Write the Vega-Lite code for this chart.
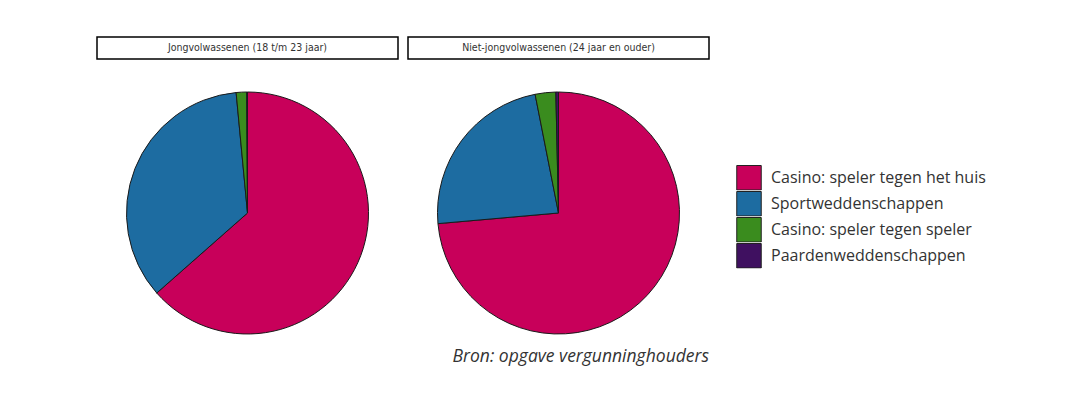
{
  "$schema": "https://vega.github.io/schema/vega-lite/v6.json",
  "padding": {"left": 96, "top": 36, "right": 0, "bottom": 0},
  "background": "#ffffff",
  "datasets": {
    "aandelen": [
      {"groep": "Jongvolwassenen (18 t/m 23 jaar)", "spel": "Casino: speler tegen het huis", "volgorde": 1, "aandeel": 63.5},
      {"groep": "Jongvolwassenen (18 t/m 23 jaar)", "spel": "Sportweddenschappen", "volgorde": 2, "aandeel": 35.0},
      {"groep": "Jongvolwassenen (18 t/m 23 jaar)", "spel": "Casino: speler tegen speler", "volgorde": 3, "aandeel": 1.4},
      {"groep": "Jongvolwassenen (18 t/m 23 jaar)", "spel": "Paardenweddenschappen", "volgorde": 4, "aandeel": 0.1},
      {"groep": "Niet-jongvolwassenen (24 jaar en ouder)", "spel": "Casino: speler tegen het huis", "volgorde": 1, "aandeel": 73.6},
      {"groep": "Niet-jongvolwassenen (24 jaar en ouder)", "spel": "Sportweddenschappen", "volgorde": 2, "aandeel": 23.3},
      {"groep": "Niet-jongvolwassenen (24 jaar en ouder)", "spel": "Casino: speler tegen speler", "volgorde": 3, "aandeel": 2.75},
      {"groep": "Niet-jongvolwassenen (24 jaar en ouder)", "spel": "Paardenweddenschappen", "volgorde": 4, "aandeel": 0.35}
    ],
    "groepen": [
      {"groep": "Jongvolwassenen (18 t/m 23 jaar)"},
      {"groep": "Niet-jongvolwassenen (24 jaar en ouder)"}
    ]
  },
  "spacing": 8,
  "hconcat": [
    {
      "spacing": 29,
      "vconcat": [
        {
          "width": 301, "height": 22,
          "view": {"stroke": "#000000", "strokeWidth": 1.5},
          "data": {"name": "groepen"},
          "transform": [{"filter": "datum.groep === 'Jongvolwassenen (18 t/m 23 jaar)'"}],
          "mark": {"type": "text", "font": "DejaVu Sans Condensed", "fontSize": 10.5, "color": "#333333"},
          "encoding": {"text": {"field": "groep", "type": "nominal"}}
        },
        {
          "width": 301, "height": 248,
          "view": {"stroke": null},
          "data": {"name": "aandelen"},
          "transform": [{"filter": "datum.groep === 'Jongvolwassenen (18 t/m 23 jaar)'"}],
          "mark": {"type": "arc", "outerRadius": 121, "stroke": "#1a1a1a", "strokeWidth": 1},
          "encoding": {
            "theta": {"field": "aandeel", "type": "quantitative", "stack": true},
            "order": {"field": "volgorde", "type": "quantitative"},
            "color": {
              "field": "spel", "type": "nominal",
              "scale": {
                "domain": ["Casino: speler tegen het huis", "Sportweddenschappen", "Casino: speler tegen speler", "Paardenweddenschappen"],
                "range": ["#C8005A", "#1D6CA1", "#3A8C1E", "#3F1060"]
              },
              "legend": {"title": null}
            }
          }
        }
      ]
    },
    {
      "spacing": 29,
      "vconcat": [
        {
          "width": 301, "height": 22,
          "view": {"stroke": "#000000", "strokeWidth": 1.5},
          "data": {"name": "groepen"},
          "transform": [{"filter": "datum.groep === 'Niet-jongvolwassenen (24 jaar en ouder)'"}],
          "mark": {"type": "text", "font": "DejaVu Sans Condensed", "fontSize": 10.5, "color": "#333333"},
          "encoding": {"text": {"field": "groep", "type": "nominal"}}
        },
        {
          "width": 301, "height": 248,
          "view": {"stroke": null},
          "title": {"text": "Bron: opgave vergunninghouders", "orient": "bottom", "anchor": "end", "offset": 11, "font": "Open Sans", "fontStyle": "italic", "fontWeight": "normal", "fontSize": 17.5, "color": "#333333"},
          "data": {"name": "aandelen"},
          "transform": [{"filter": "datum.groep === 'Niet-jongvolwassenen (24 jaar en ouder)'"}],
          "mark": {"type": "arc", "outerRadius": 121, "stroke": "#1a1a1a", "strokeWidth": 1},
          "encoding": {
            "theta": {"field": "aandeel", "type": "quantitative", "stack": true},
            "order": {"field": "volgorde", "type": "quantitative"},
            "color": {
              "field": "spel", "type": "nominal",
              "scale": {
                "domain": ["Casino: speler tegen het huis", "Sportweddenschappen", "Casino: speler tegen speler", "Paardenweddenschappen"],
                "range": ["#C8005A", "#1D6CA1", "#3A8C1E", "#3F1060"]
              },
              "legend": {"title": null}
            }
          }
        }
      ]
    }
  ],
  "config": {
    "legend": {
      "orient": "none",
      "legendX": 639,
      "legendY": 128,
      "symbolType": "square",
      "symbolSize": 600,
      "symbolStrokeColor": "#222222",
      "symbolStrokeWidth": 1,
      "symbolOpacity": 1,
      "rowPadding": 0,
      "clipHeight": 25.5,
      "labelOffset": 9,
      "labelFont": "Open Sans",
      "labelFontSize": 16,
      "labelColor": "#333333",
      "labelLimit": 400
    }
  }
}
